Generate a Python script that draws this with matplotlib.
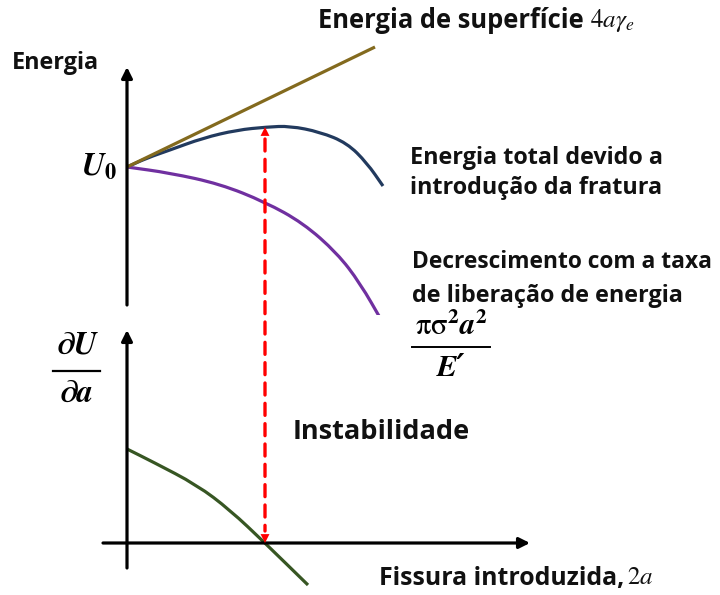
import matplotlib
matplotlib.use("Agg")
import matplotlib.pyplot as plt
from matplotlib.patches import ConnectionPatch, PathPatch
from matplotlib.path import Path

plt.rcParams["mathtext.fontset"] = "stix"
plt.rcParams["font.family"] = ["Open Sans", "DejaVu Sans"]

# --- schematic data (a = crack length, arbitrary units) ---
surf_a = [0.0, 2.48]
surf_E = [0.0, 1.20]

total_a = [0.0, 0.20, 0.43, 0.76, 1.10, 1.40, 1.63, 1.93, 2.20, 2.40, 2.56]
total_E = [0.0, 0.09, 0.17, 0.29, 0.37, 0.40, 0.41, 0.35, 0.24, 0.04, -0.19]

release_a = [0.0, 0.43, 0.93, 1.38, 1.76, 2.10, 2.33, 2.56]
release_E = [0.0, -0.06, -0.17, -0.35, -0.56, -0.86, -1.16, -1.56]

deriv_a = [0.0, 0.26, 0.70, 1.03, 1.38, 1.81]
deriv_D = [0.94, 0.81, 0.58, 0.33, 0.00, -0.42]

a_crit = 1.38          # instability point
E_crit = 0.40          # maximum of total energy


def smooth_curve(ax, xs, ys, color, lw):
    """Draw a curve through the points using quadratic Bezier segments
    (the interior points act as control points, midpoints lie on the curve)."""
    verts = [(xs[0], ys[0])]
    codes = [Path.MOVETO]
    n = len(xs)
    if n > 2:
        mids = [((xs[i] + xs[i + 1]) / 2, (ys[i] + ys[i + 1]) / 2) for i in range(n - 1)]
        verts.append(mids[0]); codes.append(Path.LINETO)
        for i in range(1, n - 1):
            verts += [(xs[i], ys[i]), mids[i]]
            codes += [Path.CURVE3, Path.CURVE3]
    verts.append((xs[-1], ys[-1])); codes.append(Path.LINETO)
    ax.add_patch(PathPatch(Path(verts, codes), fill=False, edgecolor=color,
                           lw=lw, capstyle="butt", joinstyle="round"))


W, H = 720, 595
fig = plt.figure(figsize=(W / 100, H / 100), dpi=100)

XLIM = (-1.27, 5.93)
ax_top = fig.add_axes([0, 280 / H, 1, 315 / H])
ax_top.set_xlim(*XLIM)
ax_top.set_ylim(-1.48, 1.67)
ax_bot = fig.add_axes([0, 0, 1, 280 / H])
ax_bot.set_xlim(*XLIM)
ax_bot.set_ylim(-0.52, 2.28)
for ax in (ax_top, ax_bot):
    ax.axis("off")

LW = 2.3
axis_arrow = dict(arrowstyle="-|>", lw=LW, color="black", mutation_scale=16,
                  shrinkA=0, shrinkB=0)

# axes with arrows
ax_top.annotate("", xy=(0, 1.00), xytext=(0, -1.38), arrowprops=axis_arrow)
ax_bot.annotate("", xy=(0, 2.13), xytext=(0, -0.25), arrowprops=axis_arrow)
ax_bot.annotate("", xy=(4.03, 0), xytext=(-0.24, 0), arrowprops=axis_arrow)

# energy curves
ax_top.plot(surf_a, surf_E, color="#836A1E", lw=LW, solid_capstyle="butt")
smooth_curve(ax_top, total_a, total_E, "#223A5E", LW)
smooth_curve(ax_top, release_a, release_E, "#7030A0", LW)
smooth_curve(ax_bot, deriv_a, deriv_D, "#375623", LW)

# instability: dashed double arrow linking dU/da = 0 to the energy maximum
con = ConnectionPatch(xyA=(a_crit, E_crit - 0.12), coordsA=ax_top.transData,
                      xyB=(a_crit, 0.12), coordsB=ax_bot.transData,
                      color="#FF0000", lw=2.4, linestyle=(0, (3.6, 2.5)))
fig.add_artist(con)
red_head = dict(arrowstyle="-|>", lw=0, color="#FF0000", mutation_scale=16,
                shrinkA=0, shrinkB=0)
ax_top.annotate("", xy=(a_crit, E_crit), xytext=(a_crit, E_crit - 0.13),
                arrowprops=red_head)
ax_bot.annotate("", xy=(a_crit, 0.0), xytext=(a_crit, 0.13),
                arrowprops=red_head)

# text layer in pixel coordinates
tx = fig.add_axes([0, 0, 1, 1])
tx.set_xlim(0, W)
tx.set_ylim(H, 0)
tx.axis("off")
tx.patch.set_alpha(0)

INK = "#111111"
lab = dict(fontsize=16.8, fontweight="bold", color=INK, va="center", ha="left")
tx.text(12, 63, "Energia", **lab)
tx.text(318, 21, "Energia de superfície", fontsize=18.4, fontweight="bold",
        color=INK, va="center", ha="left")
tx.text(590, 21, r"$4\mathit{a}\gamma_{e}$", fontsize=18, color=INK,
        va="center", ha="left")
tx.text(410, 158, "Energia total devido a", **lab)
tx.text(410, 188, "introdução da fratura", **lab)
tx.text(412, 262, "Decrescimento com a taxa", fontsize=16.4, fontweight="bold",
        color=INK, va="center", ha="left")
tx.text(412, 296, "de liberação de energia", **lab)
tx.text(379, 578, "Fissura introduzida,", fontsize=17.9, fontweight="bold",
        color=INK, va="center", ha="left")
tx.text(627, 578, r"$2\mathit{a}$", fontsize=18, color=INK,
        va="center", ha="left")
tx.text(293, 432, "Instabilidade", fontsize=19.5, fontweight="bold",
        color=INK, va="center", ha="left")

# U0 label
tx.text(117, 167, r"$\mathbfit{U}_{\mathbf{0}}$", fontsize=23, color="black",
        va="center", ha="right")

# dU/da fraction
frac = dict(family="STIXGeneral", fontsize=23, fontweight="bold", style="italic",
            color="black", ha="center", va="center")
tx.text(77, 346, "∂U", **frac)
tx.plot([53, 100], [371, 371], color="black", lw=1.6)
tx.text(77, 394, "∂a", **frac)

# pi sigma^2 a^2 / E' fraction
tx.text(451, 327, r"$\mathrm{\pi\sigma}^{\mathbf{2}}\mathbfit{a}^{\mathbf{2}}$",
        fontsize=22, color="black", ha="center", va="center")
tx.plot([412, 490], [347, 347], color="black", lw=1.4)
tx.text(451, 368, "E\u2032", family=["STIXGeneral", "DejaVu Serif"], fontsize=22,
        fontweight="bold", style="italic", color="black", ha="center", va="center")

fig.savefig("out.png", dpi=100)
